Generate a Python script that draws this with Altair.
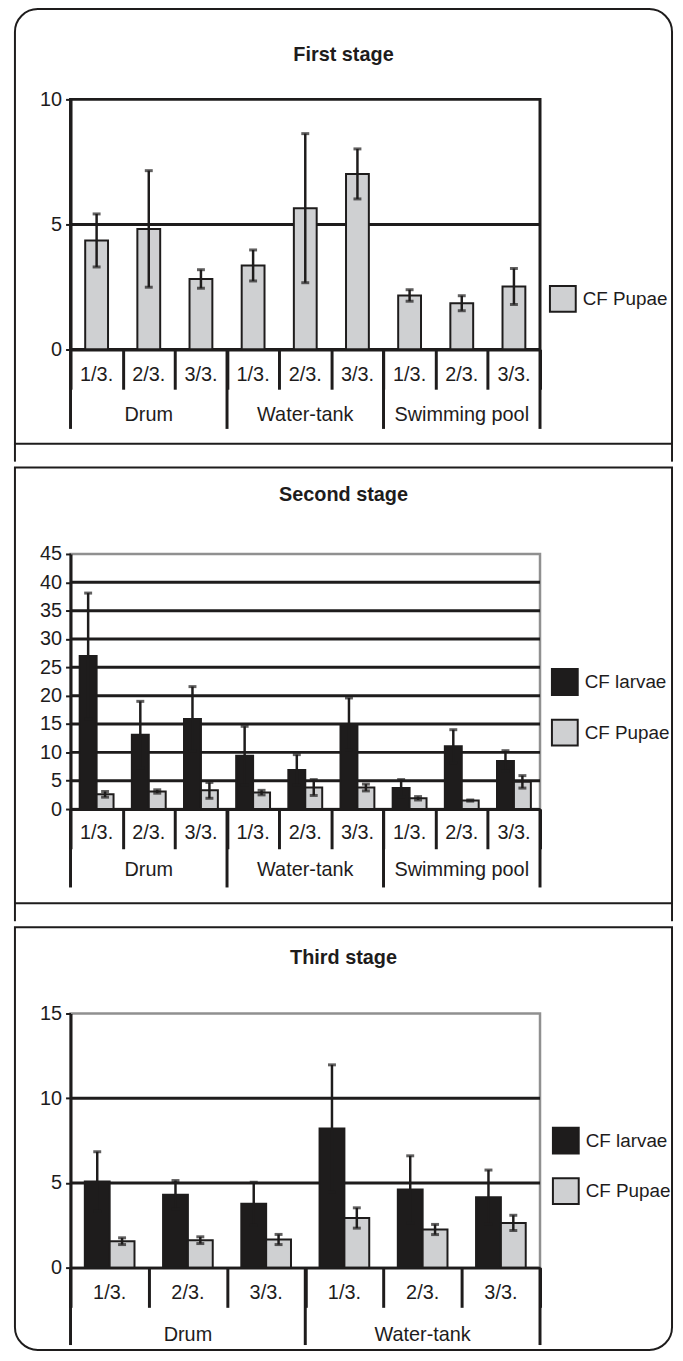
import altair as alt
import pandas as pd

FONT = "Liberation Sans, Arial, Helvetica, sans-serif"
BLACK = "#1e1c1c"
PUPAE_FILL = "#cfd0d2"
BORDER_GRAY = "#909090"

periods = ["1/3.", "2/3.", "3/3."]
groups_first = ["Drum", "Water-tank", "Swimming pool"]
groups_second = ["Drum", "Water-tank", "Swimming pool"]
groups_third = ["Drum", "Water-tank"]

# First stage (CF Pupae)
s1_pupae = [4.36, 4.82, 2.82, 3.36, 5.65, 7.02, 2.16, 1.85, 2.52]
s1_pupae_err = [1.06, 2.33, 0.37, 0.62, 2.98, 1.0, 0.23, 0.3, 0.72]

# Second stage
s2_larvae = [27.0, 13.1, 15.9, 9.4, 6.9, 15.0, 3.7, 11.1, 8.5]
s2_larvae_err = [11.1, 5.9, 5.7, 5.2, 2.7, 4.6, 1.5, 2.9, 1.8]
s2_pupae = [2.6, 3.1, 3.3, 2.9, 3.8, 3.8, 1.9, 1.5, 4.8]
s2_pupae_err = [0.5, 0.3, 1.4, 0.4, 1.4, 0.6, 0.3, 0.1, 1.1]

# Third stage
s3_larvae = [5.08, 4.3, 3.77, 8.22, 4.61, 4.16]
s3_larvae_err = [1.76, 0.84, 1.27, 3.75, 1.99, 1.6]
s3_pupae = [1.56, 1.62, 1.66, 2.93, 2.25, 2.64]
s3_pupae_err = [0.2, 0.2, 0.3, 0.6, 0.3, 0.45]

titles = ["First stage", "Second stage", "Third stage"]
series_names = ["CF larvae", "CF Pupae"]
series_colors = [BLACK, PUPAE_FILL]

W = 473


def make_panel(title, groups, series, ymax, yvals, gridvals, h, frame, title_y,
               legend_xy, border, label_dy, group_dy, group_line, bar_w=None, pad_outer=0.5):
    keys = [f"{g} {p}" for g in groups for p in periods]
    rows = []
    for sname, vals, errs in series:
        for k, v, e in zip(keys, vals, errs):
            rows.append({"key": k, "series": sname, "value": v, "lo": max(v - e, 0), "hi": v + e})
    df = pd.DataFrame(rows)
    snames = [s[0] for s in series]
    scols = [series_colors[series_names.index(s)] for s in snames]

    xscale = alt.Scale(domain=keys, paddingInner=0, paddingOuter=0)
    xaxis = alt.Axis(labels=False, title=None, tickBand="extent", tickSize=40, tickWidth=3,
                     tickColor=BLACK, domainColor=BLACK, domainWidth=3, grid=False, zindex=1)

    def X(**kw):
        return alt.X("key:N", scale=xscale, axis=xaxis, title=None, **kw)

    yscale = alt.Scale(domain=[0, ymax], nice=False, zero=True)
    yaxis = alt.Axis(values=yvals, tickSize=5, tickWidth=2, tickColor=BLACK, domainColor=BLACK,
                     domainWidth=3, labelFont=FONT, labelFontSize=20, labelColor=BLACK,
                     labelPadding=4, grid=False, title=None, zindex=1)

    def Y(field):
        return alt.Y(f"{field}:Q", scale=yscale, axis=yaxis, title=None)

    color = alt.Color("series:N", scale=alt.Scale(domain=snames, range=scols),
                      legend=alt.Legend(orient="none", legendX=legend_xy[0], legendY=legend_xy[1],
                                        title=None, symbolType="square", symbolSize=676,
                                        symbolStrokeColor=BLACK, symbolStrokeWidth=2,
                                        labelFont=FONT, labelFontSize=19, labelColor=BLACK,
                                        labelOffset=6, rowPadding=17, padding=0))

    one = pd.DataFrame({"d": [0]})
    fr = alt.Chart(one).mark_rect(fill="transparent", stroke=BLACK, strokeWidth=2,
                                  **frame["corners"]).encode(
        x=alt.value(-56), x2=alt.value(606), y=alt.value(frame["top"]), y2=alt.value(frame["bottom"]))
    layers = [fr]
    if frame.get("ext"):
        for xv in (-56, 606):
            layers.append(alt.Chart(one).mark_rule(color=BLACK, strokeWidth=2).encode(
                x=alt.value(xv), y=alt.value(frame["bottom"]), y2=alt.value(frame["ext"])))

    tdf = pd.DataFrame({"t": [title]})
    layers.append(alt.Chart(tdf).mark_text(font=FONT, fontSize=20, fontWeight="bold", color=BLACK,
                                           baseline="middle", align="center").encode(
        x=alt.value(275), y=alt.value(title_y), text="t:N"))

    gdf = pd.DataFrame({"g": gridvals})
    layers.append(alt.Chart(gdf).mark_rule(color=BLACK, strokeWidth=3).encode(y=Y("g")))

    enc = dict(x=X(), color=color)
    rule_enc = dict(x=X())
    if len(snames) > 1:
        xo = alt.XOffset("series:N", scale=alt.Scale(domain=snames, paddingInner=0, paddingOuter=pad_outer))
        enc["xOffset"] = xo
        rule_enc["xOffset"] = xo
        bars = alt.Chart(df).mark_bar(stroke=BLACK, strokeWidth=2)
    else:
        bars = alt.Chart(df).mark_bar(stroke=BLACK, strokeWidth=2, width=bar_w)
    layers.append(bars.encode(y=Y("value"), **enc))
    layers.append(alt.Chart(df).mark_rule(color=BLACK, strokeWidth=2.5).encode(
        y=Y("lo"), y2="hi:Q", **rule_enc))
    layers.append(alt.Chart(df).mark_tick(color=BLACK, thickness=3, size=8).encode(y=Y("hi"), **rule_enc))
    layers.append(alt.Chart(df).mark_tick(color=BLACK, thickness=3, size=8).encode(y=Y("lo"), **rule_enc))

    cdf = pd.DataFrame({"key": keys, "period": [p for g in groups for p in periods]})
    layers.append(alt.Chart(cdf).mark_text(font=FONT, fontSize=20, color=BLACK, baseline="middle").encode(
        x=X(), y=alt.value(h + label_dy), text="period:N"))

    grp = pd.DataFrame({"key": [f"{g} {periods[1]}" for g in groups], "group": groups})
    layers.append(alt.Chart(grp).mark_text(font=FONT, fontSize=20, color=BLACK, baseline="middle").encode(
        x=X(), y=alt.value(h + group_dy), text="group:N"))

    starts = pd.DataFrame({"key": [f"{g} {periods[0]}" for g in groups]})
    layers.append(alt.Chart(starts).mark_rule(color=BLACK, strokeWidth=3).encode(
        x=X(bandPosition=0), y=alt.value(h), y2=alt.value(h + group_line)))
    ends = pd.DataFrame({"key": [keys[-1]]})
    layers.append(alt.Chart(ends).mark_rule(color=BLACK, strokeWidth=3).encode(
        x=X(bandPosition=1), y=alt.value(h), y2=alt.value(h + group_line)))

    return alt.layer(*layers).properties(
        width=W, height=h, view=alt.ViewBackground(stroke=border[0], strokeWidth=border[1]))


p1 = make_panel(titles[0], groups_first, [("CF Pupae", s1_pupae, s1_pupae_err)], 10, [0, 5, 10], [5],
                252, {"top": -91, "bottom": 347, "ext": 365,
                      "corners": {"cornerRadiusTopLeft": 23, "cornerRadiusTopRight": 23}},
                -45, (482, 187), (BLACK, 3), 26, 66, 80, bar_w=23)
p2 = make_panel(titles[1], groups_second,
                [("CF larvae", s2_larvae, s2_larvae_err), ("CF Pupae", s2_pupae, s2_pupae_err)],
                45, list(range(0, 46, 5)), list(range(5, 41, 5)),
                257, {"top": -87, "bottom": 352, "ext": 370, "corners": {}},
                -59, (484, 115), (BORDER_GRAY, 2.5), 24, 61, 79, pad_outer=0.54)
p3 = make_panel(titles[2], groups_third,
                [("CF larvae", s3_larvae, s3_larvae_err), ("CF Pupae", s3_pupae, s3_pupae_err)],
                15, [0, 5, 10, 15], [5, 10],
                256, {"top": -87, "bottom": 339,
                      "corners": {"cornerRadiusBottomLeft": 23, "cornerRadiusBottomRight": 23}},
                -56, (485, 114), (BORDER_GRAY, 2.5), 26, 68, 78, pad_outer=0.575)

chart = alt.vconcat(p1, p2, p3, spacing=0).resolve_scale(
    x="independent", y="independent", color="independent", xOffset="independent"
).resolve_legend(color="independent").properties(
    padding={"left": 4, "top": -7, "right": 0, "bottom": 0}
).configure_view(stroke=None)

chart.save("out.html", embed_options={"renderer": "svg", "actions": False})
